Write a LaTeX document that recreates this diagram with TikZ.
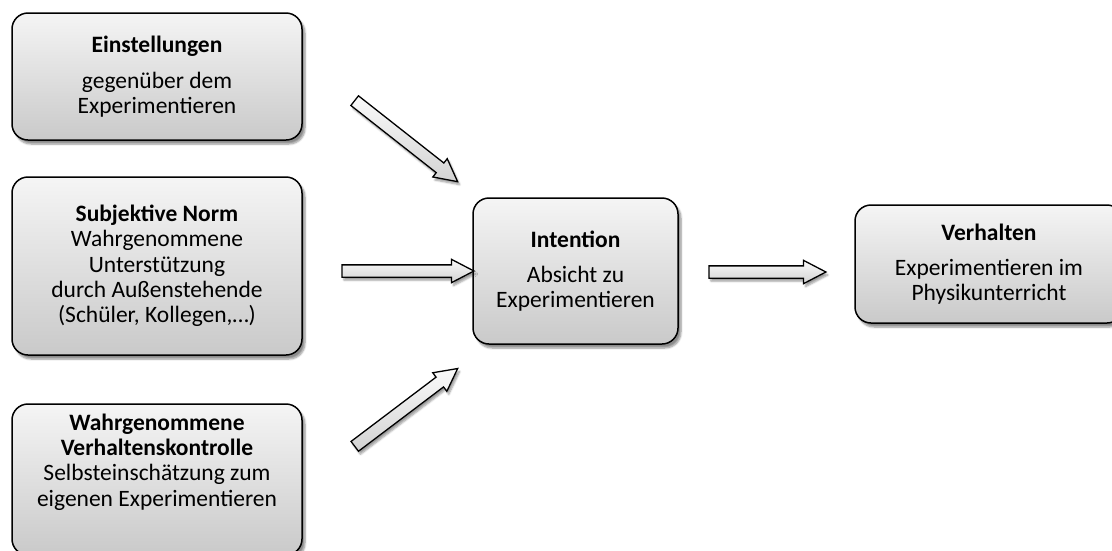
\documentclass[tikz,border=0pt]{standalone}
\usepackage{fontspec}
\setmainfont{Carlito}
\usetikzlibrary{shapes.arrows,shadows.blur}
\tikzset{
  boxtext/.style={align=center, font=\fontsize{23.5}{25.3}\selectfont, inner sep=0pt},
  boxstyle/.style={boxtext, draw=black, line width=1.5pt, rounded corners=16pt,
    top color=gray!8, bottom color=gray!42,
    blur shadow={shadow xshift=3pt, shadow yshift=-4pt, shadow blur steps=6, shadow opacity=45}},
  blockarrow/.style={single arrow, draw=black, line width=1.3pt,
    top color=gray!4, bottom color=gray!35, inner xsep=0pt, inner ysep=5.5pt,
    single arrow head extend=5.5pt, single arrow tip angle=55,
    blur shadow={shadow xshift=2pt, shadow yshift=-3pt, shadow blur steps=5, shadow opacity=40}}
}
\begin{document}
\begin{tikzpicture}[x=1pt,y=-1pt]
\useasboundingbox (0,0) rectangle (1112,550);
\clip (0,0) rectangle (1112,550);
% boxes
\node[boxstyle, minimum width=290pt, minimum height=127pt] (b1) at (157,76.5)
  {\textbf{Einstellungen}\\[11pt]gegenüber dem\\Experimentieren};
\node[boxstyle, minimum width=290pt, minimum height=178pt] (b2) at (157,266)
  {\textbf{Subjektive Norm}\\Wahrgenommene\\Unterstützung\\durch Außenstehende\\(Schüler, Kollegen,…)};
\node[boxstyle, minimum width=290pt, minimum height=151pt] (b3) at (157,479.5) {};
\node[boxtext] (b3t) at (157,462)
  {\textbf{Wahrgenommene}\\\textbf{Verhaltenskontrolle}\\Selbsteinschätzung zum\\eigenen Experimentieren};
\node[boxstyle, minimum width=205pt, minimum height=146pt] (int) at (575.5,271)
  {\textbf{Intention}\\[10pt]Absicht zu\\Experimentieren};
\node[boxstyle, minimum width=268pt, minimum height=118pt] (ver) at (989,264)
  {\textbf{Verhalten}\\[10pt]Experimentieren im\\Physikunterricht};
% block arrows
\node[blockarrow, minimum height=131pt, rotate=-38.2] (a1) at (401.5,137.5) {};
\node[blockarrow, minimum height=132pt] (a2) at (402,271) {};
\node[blockarrow, minimum height=129pt, rotate=37.1] (a3) at (401.5,411) {};
\node[blockarrow, minimum height=117pt] (a4) at (761.5,272) {};
\end{tikzpicture}
\end{document}
